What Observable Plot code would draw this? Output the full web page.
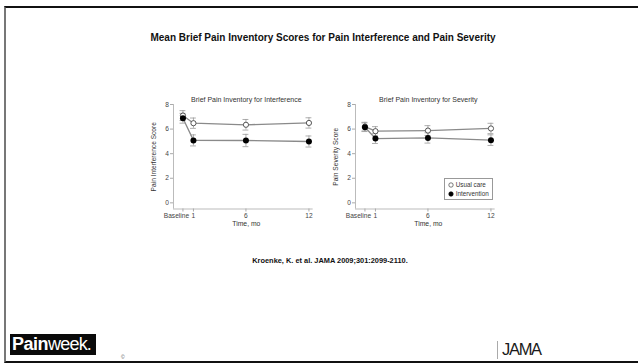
<!DOCTYPE html>
<html><head><meta charset="utf-8">
<script src="https://cdn.jsdelivr.net/npm/d3@7"></script>
<script src="https://cdn.jsdelivr.net/npm/@observablehq/plot@0.6"></script>
<style>
body{margin:0;background:#fff;}
#slide{position:relative;width:638px;height:363px;overflow:hidden;font-family:"Liberation Sans",Arial,sans-serif;background:#fff;}
#frame{position:absolute;left:4px;top:6px;width:700px;height:353px;border-top:2.4px solid #111;border-left:2px solid #777;border-bottom:2px solid #111;}
#title{position:absolute;left:0;width:646px;top:32px;text-align:center;font-weight:bold;font-size:10px;color:#111;}
#cite{position:absolute;left:0;width:660px;top:255.5px;text-align:center;font-weight:bold;font-size:7.4px;color:#111;}
.panel{position:absolute;top:88px;}
#legend{position:absolute;left:444px;top:178px;width:47px;height:20px;border:0.8px solid #999;font-size:6.3px;color:#333;background:#fff;}
#legend div{position:absolute;left:3px;white-space:nowrap;}
#logo{position:absolute;left:10px;top:334px;width:86px;height:21px;background:#0a0a0a;color:#fff;font-size:18px;line-height:21px;letter-spacing:-0.5px;}
#logo .b{font-weight:900;margin-left:2px;}
#logo .l{font-weight:300;letter-spacing:-0.8px;}
#copy{position:absolute;left:121px;top:354px;font-size:5px;color:#555;}
#jline{position:absolute;left:497px;top:341px;width:1px;height:18px;background:#aaa;}
#jama{position:absolute;left:502px;top:340px;font-size:16.5px;letter-spacing:-1.3px;color:#1a1a1a;}
</style></head><body>
<div id="slide">
<div id="frame"></div>
<div id="title">Mean Brief Pain Inventory Scores for Pain Interference and Pain Severity</div>
<div id="p1" class="panel" style="left:140px"></div>
<div id="p2" class="panel" style="left:322px"></div>
<div id="legend"></div>
<div id="cite">Kroenke, K. et al. JAMA 2009;301:2099-2110.</div>
<div id="logo"><span class="b">Pain</span><span class="l">week.</span></div>
<div id="copy">©</div>
<div id="jline"></div>
<div id="jama">JAMA</div>
</div>
<script>
// ---- data ----
const months = [0, 1, 6, 12];
const tickLabels = ["Baseline", "1", "6", "12"];
const groups = ["Usual care", "Intervention"];
const panelTitles = ["Brief Pain Inventory for Interference", "Brief Pain Inventory for Severity"];
const yLabels = ["Pain Interference Score", "Pain Severity Score"];
const xLabel = "Time, mo";
const yTicks = [0, 2, 4, 6, 8];

const interfUsual   = [7.10, 6.48, 6.35, 6.50];
const interfUsualSE = [0.40, 0.42, 0.43, 0.42];
const interfInterv  = [6.88, 5.08, 5.07, 4.99];
const interfIntervSE= [0.40, 0.45, 0.50, 0.45];

const sevUsual   = [6.20, 5.83, 5.88, 6.05];
const sevUsualSE = [0.35, 0.37, 0.40, 0.42];
const sevInterv  = [6.15, 5.23, 5.28, 5.10];
const sevIntervSE= [0.35, 0.40, 0.42, 0.43];

const xDomain = [-0.9, 12.4];
const yDomain = [-0.5, 8];
const capHalf = 0.28;

function rows(usual, usualSE, interv, intervSE) {
  const r = [];
  months.forEach((m, i) => r.push({group: groups[0], month: m, value: usual[i], se: usualSE[i]}));
  months.forEach((m, i) => r.push({group: groups[1], month: m, value: interv[i], se: intervSE[i]}));
  return r;
}

function panel(data, title, ylab) {
  const usual = data.filter(d => d.group === groups[0]);
  const interv = data.filter(d => d.group === groups[1]);
  const axisStyle = {tickSize: 3, tickPadding: 1.5, stroke: "#aaa", fontSize: 6.6, label: null};
  const fmt = d => tickLabels[months.indexOf(d)];
  return Plot.plot({
    width: 180, height: 145,
    marginLeft: 33, marginRight: 7.35, marginTop: 16, marginBottom: 24.5,
    style: {fontFamily: "Liberation Sans, Arial, sans-serif", fontSize: "6.5px", color: "#444", background: "transparent"},
    x: {domain: xDomain},
    y: {domain: yDomain},
    marks: [
      Plot.ruleX([xDomain[0]], {stroke: "#aaa", strokeWidth: 0.8}),
      Plot.ruleY([yDomain[0]], {stroke: "#aaa", strokeWidth: 0.8}),
      Plot.axisY({...axisStyle, ticks: yTicks}),
      // tick marks for every time point, labels for months
      Plot.axisX({...axisStyle, ticks: months, tickFormat: d => d === months[0] ? "" : fmt(d)}),
      // baseline label, set off to the left of its tick
      Plot.axisX({...axisStyle, tickSize: 0, tickPadding: 4.5, ticks: months.slice(0, 1), dx: -6.5, tickFormat: fmt}),
      Plot.text([title], {frameAnchor: "top", dy: -7, dx: 3, fontSize: 7, fill: "#333"}),
      Plot.text([ylab], {frameAnchor: "left", rotate: -90, textAnchor: "middle", dx: -20, fontSize: 6.6, fill: "#333"}),
      Plot.text([xLabel], {frameAnchor: "bottom", dy: 16.5, dx: 3, fontSize: 6.8, fill: "#333"}),
      Plot.line(usual, {x: "month", y: "value", stroke: "#8a8a8a", strokeWidth: 1.3}),
      Plot.line(interv, {x: "month", y: "value", stroke: "#8a8a8a", strokeWidth: 1.3}),
      Plot.ruleX(data, {x: "month", y1: d => d.value - d.se, y2: d => d.value + d.se, stroke: "#999", strokeWidth: 0.8}),
      Plot.ruleY(data, {y: d => d.value - d.se, x1: d => d.month - capHalf, x2: d => d.month + capHalf, stroke: "#999", strokeWidth: 0.8}),
      Plot.ruleY(data, {y: d => d.value + d.se, x1: d => d.month - capHalf, x2: d => d.month + capHalf, stroke: "#999", strokeWidth: 0.8}),
      Plot.dot(usual, {x: "month", y: "value", r: 2.6, fill: "#fff", stroke: "#444", strokeWidth: 0.9}),
      Plot.dot(interv, {x: "month", y: "value", r: 3, fill: "#000", stroke: "none"})
    ]
  });
}

document.getElementById("p1").append(panel(rows(interfUsual, interfUsualSE, interfInterv, interfIntervSE), panelTitles[0], yLabels[0]));
document.getElementById("p2").append(panel(rows(sevUsual, sevUsualSE, sevInterv, sevIntervSE), panelTitles[1], yLabels[1]));

// legend
const leg = document.getElementById("legend");
groups.forEach((g, i) => {
  const row = document.createElement("div");
  row.style.top = (2 + i * 9) + "px";
  const fill = i === 0 ? "#fff" : "#000";
  row.innerHTML = `<svg width="6" height="6" style="vertical-align:-0.5px"><circle cx="3" cy="3" r="2.2" fill="${fill}" stroke="${i===0?'#444':'#000'}" stroke-width="0.7"/></svg> ${g}`;
  leg.append(row);
});
</script>
</body></html>
